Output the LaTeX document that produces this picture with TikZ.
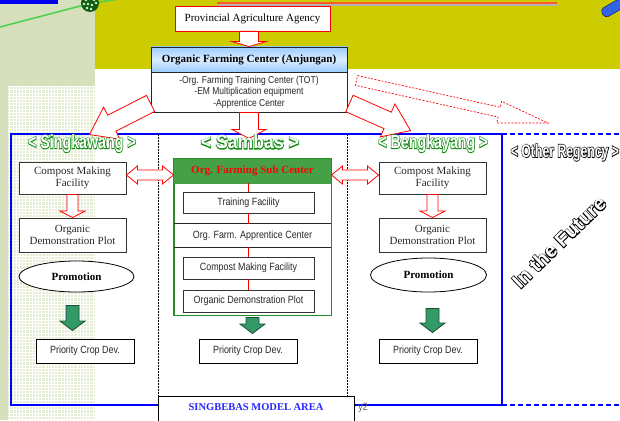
\documentclass[tikz,border=0pt]{standalone}
\usepackage{fontspec}
\setmainfont{Liberation Serif}
\setsansfont{Liberation Sans}
\usetikzlibrary{calc,shapes.geometric}
\definecolor{stripgreen}{RGB}{214,224,188}
\definecolor{gridgreen}{RGB}{228,236,212}
\definecolor{bandol}{RGB}{204,204,0}
\definecolor{topblue}{RGB}{0,0,240}
\definecolor{linegreen}{RGB}{80,210,80}
\definecolor{balldark}{RGB}{20,90,20}
\definecolor{titleorange}{RGB}{255,90,40}
\definecolor{capblue}{RGB}{50,100,230}
\definecolor{hdrblue}{RGB}{153,204,255}
\definecolor{subgreen}{RGB}{40,140,40}
\definecolor{subdark}{RGB}{70,160,70}
\definecolor{subpale}{RGB}{215,245,210}
\definecolor{arrowgreen}{RGB}{51,153,102}
\definecolor{arrowdark}{RGB}{25,80,50}
\definecolor{areablue}{RGB}{0,0,255}
\definecolor{singblue}{RGB}{40,40,255}
\definecolor{txtgray}{RGB}{40,40,40}
\newcommand\nar[1]{\scalebox{0.85}[1]{#1}}
% outlined (hollow) text: stroke colour as "r g b", text
\newcommand\hollow[2]{\rlap{{\color{black}\special{pdf:literal direct 1 Tr 1.6 w #1 RG}#2\special{pdf:literal direct 0 Tr 0.4 w}}}{\color{white}#2}}
% block arrow: style, from, to, half shaft, half head, head length
\newcommand\blockarrow[6]{%
  \coordinate (bhead) at ($(#3)!#6!(#2)$);
  \draw[#1] ($(#2)!#4!90:(#3)$) -- ($(bhead)!#4!90:(#3)$) -- ($(bhead)!#5!90:(#3)$) -- (#3)
    -- ($(bhead)!#5!-90:(#3)$) -- ($(bhead)!#4!-90:(#3)$) -- ($(#2)!#4!-90:(#3)$) -- cycle;}
\newcommand\dblockarrow[6]{%
  \coordinate (dhA) at ($(#2)!#6!(#3)$);
  \coordinate (dhB) at ($(#3)!#6!(#2)$);
  \draw[#1] (#2) -- ($(dhA)!#5!90:(#3)$) -- ($(dhA)!#4!90:(#3)$) -- ($(dhB)!#4!-90:(#2)$)
    -- ($(dhB)!#5!-90:(#2)$) -- (#3) -- ($(dhB)!#5!90:(#2)$) -- ($(dhB)!#4!90:(#2)$)
    -- ($(dhA)!#4!-90:(#3)$) -- ($(dhA)!#5!-90:(#3)$) -- cycle;}
\begin{document}
\begin{tikzpicture}[x=1pt,y=-1pt,
  serif/.style={font=\fontsize{11}{12.5}\selectfont},
  gbox/.style={draw=black!80, line width=0.9pt, fill=white, inner sep=0pt, align=center, text=txtgray, serif},
  sbox/.style={draw=black!80, line width=0.9pt, fill=white, inner sep=0pt, align=center, text=txtgray, font=\sffamily\fontsize{10.5}{12}\selectfont},
  prio/.style={sbox, draw=black, minimum width=98pt, minimum height=24pt},
  promo/.style={ellipse, draw=black, line width=0.8pt, fill=white, inner sep=0pt, font=\bfseries\fontsize{11}{12}\selectfont},
  redarrow/.style={draw=red, line width=0.8pt, fill=white, line join=miter},
  grnarrow/.style={draw=arrowdark, line width=0.8pt, fill=arrowgreen, line join=miter},
  title/.style={font=\sffamily\bfseries\fontsize{19}{20}\selectfont, inner sep=0pt},
]
\useasboundingbox (0,0) rectangle (620,420);
% background
\fill[white] (0,0) rectangle (620,420);
\fill[stripgreen] (0,0) rectangle (95,420);
\fill[gridgreen] (8,86) rectangle (95,420);
\draw[white, line width=0.5pt, step=3.2pt] (8,86) grid (95,420);
\fill[bandol] (95,0) rectangle (620,69);
% top decorations
\fill[topblue] (0,0) rectangle (58,4.5);
\draw[linegreen, line width=1.6pt] (0,27) -- (88,4) -- (125,-2);
\fill[balldark] (90,3) circle (9pt);
\foreach \p in {(86,0),(90,-1),(94,0),(84,4),(88,4),(92,5),(96,3),(87,8),(91,9)}
  \fill[white!80!green] \p circle (1.3pt);
\fill[gray!60] (217,4.5) rectangle (557,5.6);
\fill[titleorange] (217,2) rectangle (557,4.3);
\node[draw=blue!50!black, fill=capblue, rounded corners=4pt, minimum width=24pt, minimum height=10pt, rotate=30, inner sep=0pt] (cap) at (613,8) {};
% model area frame
\draw[areablue, line width=1.1pt] (11,134) rectangle (502,405);
\draw[areablue, line width=1.1pt, dash pattern=on 5pt off 3pt] (502,134) -- (620,134) (502,405) -- (620,405);
\draw[black, line width=0.6pt, dash pattern=on 1.5pt off 1.5pt] (158.5,134) -- (158.5,396) (347,134) -- (347,396);
% top nodes
\node[draw=red, line width=0.8pt, fill=white, minimum width=155pt, minimum height=25pt, inner sep=0pt, serif] (prov) at (252.5,18.5) {Provincial Agriculture Agency};
\node[draw=black!85, line width=0.9pt, top color=hdrblue, bottom color=hdrblue, middle color=hdrblue!35!white, minimum width=196pt, minimum height=25pt, inner sep=0pt, font=\bfseries\fontsize{11}{12}\selectfont] (orgh) at (249,59.5) {Organic Farming Center (Anjungan)};
\node[draw=black!85, line width=0.9pt, fill=white, minimum width=196pt, minimum height=40pt, inner sep=0pt, align=center, text=txtgray, font=\sffamily\fontsize{10}{11.5}\selectfont] (orgb) at (249,92) {\nar{-Org. Farming Training Center (TOT)}\\\nar{-EM Multiplication equipment}\\\nar{-Apprentice Center}};
% left column
\node[gbox, minimum width=107pt, minimum height=32pt] (lcomp) at (72.5,178) {Compost Making\\Facility};
\node[gbox, minimum width=107pt, minimum height=34pt] (ldemo) at (72.5,235) {Organic\\Demonstration Plot};
\node[promo, minimum width=115pt, minimum height=31pt] (lprom) at (76.5,276.5) {Promotion};
\node[prio] (lprio) at (85,351) {\nar{Priority Crop Dev.}};
% right column
\node[gbox, minimum width=107pt, minimum height=32pt] (rcomp) at (432.5,178) {Compost Making\\Facility};
\node[gbox, minimum width=107pt, minimum height=34pt] (rdemo) at (432.5,235) {Organic\\Demonstration Plot};
\node[promo, minimum width=116pt, minimum height=34pt] (rprom) at (428.5,275) {Promotion};
\node[prio] (rprio) at (428,351) {\nar{Priority Crop Dev.}};
% middle column
\node[draw=subgreen, line width=1pt, fill=white, minimum width=157pt, minimum height=156pt, inner sep=0pt] (subc) at (252.5,237) {};
\node[top color=subdark, middle color=subpale, bottom color=subdark, minimum width=157pt, minimum height=24pt, inner sep=0pt, text=red, font=\bfseries\fontsize{11}{12}\selectfont] (subh) at (252.5,171) {Org. Farming Sub Center};
\draw[subgreen, line width=1pt] (subc.north west) rectangle (subc.south east);
\node[sbox, minimum width=131pt, minimum height=21pt] (train) at (248.5,202.5) {\nar{Training Facility}};
\node[minimum width=157pt, minimum height=23pt, inner sep=0pt, text=txtgray, font=\sffamily\fontsize{10.5}{12}\selectfont] (appr) at (252.5,235.5) {\nar{Org. Farm. Apprentice Center}};
\draw[black!85, line width=0.9pt] (appr.north west) -- (appr.north east) (appr.south west) -- (appr.south east);
\node[sbox, minimum width=131pt, minimum height=22pt] (mcomp) at (248.5,268) {\nar{Compost Making Facility}};
\node[sbox, minimum width=131pt, minimum height=22pt] (mdemo) at (248.5,301) {\nar{Organic Demonstration Plot}};
\draw[red, line width=1pt] (train.north |- subh.south) -- (train.north)
  (train.south) -- (train.south |- appr.north)
  (train.south |- appr.south) -- (mcomp.north)
  (mcomp.south) -- (mdemo.north);
\node[prio] (mprio) at (248,351) {\nar{Priority Crop Dev.}};
% red block arrows
\coordinate (t1) at (orgh.north |- prov.south);
\blockarrow{redarrow}{t1}{orgh.north}{9.5pt}{17pt}{5pt}
\coordinate (lA) at ($(orgb.south west)+(0,-9)$);
\coordinate (lB) at ($(lcomp.north)+(17,-27)$);
\blockarrow{redarrow}{lA}{lB}{9pt}{18pt}{25pt}
\coordinate (rA) at ($(orgb.south east)+(2,-9)$);
\coordinate (rB) at ($(rcomp.north)+(-22,-31)$);
\blockarrow{redarrow}{rA}{rB}{9pt}{18pt}{25pt}
\coordinate (mB) at ($(orgb.south)+(0,26)$);
\blockarrow{redarrow}{orgb.south}{mB}{9.5pt}{17pt}{9pt}
\coordinate (dA) at ($(orgh.south east)+(9,8)$);
\coordinate (future) at (548,123);
\blockarrow{redarrow, fill=none, line width=0.7pt, dash pattern=on 2pt off 1.5pt}{dA}{future}{5pt}{11pt}{50pt}
\blockarrow{redarrow}{lcomp.south}{ldemo.north}{5.5pt}{12.5pt}{6.5pt}
\blockarrow{redarrow}{rcomp.south}{rdemo.north}{5.5pt}{12.5pt}{6.5pt}
\coordinate (d1a) at ($(lcomp.east)+(0,-3)$);
\coordinate (d1b) at (d1a -| subc.west);
\coordinate (d2a) at (d1a -| subc.east);
\coordinate (d2b) at (d1a -| rcomp.west);
\dblockarrow{redarrow}{d1a}{d1b}{5pt}{9pt}{11pt}
\dblockarrow{redarrow}{d2a}{d2b}{5pt}{9pt}{11pt}
% green arrows
\coordinate (g1a) at ($(lprio.north)+(-12.5,-33)$);
\coordinate (g1b) at ($(lprio.north)+(-12.5,-8)$);
\blockarrow{grnarrow}{g1a}{g1b}{6.5pt}{12.5pt}{9.5pt}
\coordinate (g2a) at ($(subc.south)+(0,2)$);
\coordinate (g2b) at ($(subc.south)+(0,18)$);
\blockarrow{grnarrow}{g2a}{g2b}{6.5pt}{12.5pt}{9.5pt}
\coordinate (g3a) at ($(rprio.north)+(4.5,-30)$);
\coordinate (g3b) at ($(rprio.north)+(4.5,-6)$);
\blockarrow{grnarrow}{g3a}{g3b}{6.5pt}{12.5pt}{9.5pt}
% bottom label
\node[anchor=east, text=gray!80!black, font=\sffamily\fontsize{10.5}{12}\selectfont, inner sep=0pt] (ytwo) at (368,408) {\nar{y2}};
\node[draw=black, line width=0.8pt, fill=white, minimum width=196pt, minimum height=30pt, anchor=north, inner sep=0pt] (sing) at (256,396) {};
\node[text=singblue, font=\bfseries\fontsize{10.5}{12}\selectfont, inner sep=0pt] (singtxt) at (256,407) {SINGBEBAS MODEL AREA};
% hollow titles
\node[title] (tsing) at (82,143.5) {\hollow{0.08 0.55 0.08}{\scalebox{0.75}[1]{< Singkawang >}}};
\node[title] (tsamb) at (250,142) {\hollow{0.08 0.55 0.08}{\scalebox{0.93}[1]{< Sambas >}}};
\node[title] (tbeng) at (433,143.5) {\hollow{0.08 0.55 0.08}{\scalebox{0.75}[1]{< Bengkayang >}}};
\node[title, font=\sffamily\bfseries\fontsize{18}{19}\selectfont] (tother) at (565,152.5) {\hollow{0 0 0}{\scalebox{0.68}[1]{< Other Regency >}}};
\node[title, rotate=44, font=\sffamily\bfseries\fontsize{20}{21}\selectfont] (tfut) at (559,242) {\hollow{0 0 0}{In the Future}};
\end{tikzpicture}
\end{document}
